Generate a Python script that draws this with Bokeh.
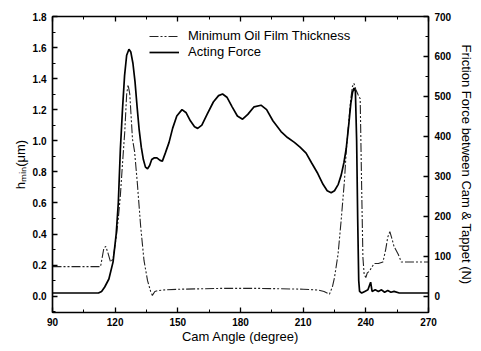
from bokeh.plotting import figure
from bokeh.models import (Range1d, LinearAxis, Legend, LegendItem, SingleIntervalTicker,
                          PrintfTickFormatter, CustomLabelingPolicy)
from bokeh.embed import file_html
from bokeh.resources import INLINE

# ---- data ----
force_deg = [90, 112, 113.5, 115, 117, 119, 120.5, 121.5, 122.5, 123.5, 124.5, 125.5, 126.6,
             127.5, 128.5, 129.5, 130.5, 131.5, 132.5, 133.5, 134.5, 135.5, 136.5, 137.5, 138.6,
             140, 141.5, 142.6, 144, 145.8, 147.5, 149.5, 152, 154, 156, 158, 159.5, 161.5, 164,
             167, 169.5, 171.4, 173.5, 176, 178.5, 181, 183.5, 186.5, 189.8, 192.5, 195.5, 199.4,
             202.5, 205.8, 208.5, 211.4, 214, 217, 219.5, 221.5, 223.4, 225, 226.8, 228.2, 229.5,
             230.6, 231.8, 232.8, 233.6, 234.3, 235, 235.6, 236.1, 236.6, 237, 238, 239.5, 241,
             242.3, 243, 244.5, 246, 247.5, 249, 250.5, 252, 253.5, 256, 260, 270]
force_N = [8, 8, 12, 23, 43, 86, 156, 233, 369, 467, 552, 603, 618,
           611, 583, 537, 474, 416, 373, 342, 323, 319, 327, 342, 346,
           346, 340, 338, 358, 385, 420, 451, 467, 459, 439, 424, 420, 428, 455,
           486, 502, 506, 498, 474, 451, 443, 455, 474, 478, 467, 439, 412,
           397, 385, 373, 358, 334, 307, 280, 264, 259, 264, 280, 303, 334,
           369, 428, 482, 509, 521, 513, 389, 194, 39, 12, 8, 12, 16,
           35, 12, 16, 12, 16, 10, 14, 10, 12, 8, 8, 8]

film_deg = [90, 113, 113.8, 114.6, 115.5, 116.5, 117.8, 119, 120.5, 121.5, 122.5, 123.5, 124.6,
            125.5, 126.2, 127, 128.3, 129.3, 130.6, 132.2, 133.8, 135.5, 137, 137.8, 139, 140.3,
            143, 151.4, 170, 190, 210, 217, 220, 222.6, 224, 225, 226.7, 228.2, 229.8, 230.6,
            231.8, 232.8, 233.6, 234.3, 235.2, 236.2, 237.3, 238, 238.6, 239.2, 240, 240.7,
            241.7, 243, 244, 246, 248.2, 249.5, 250.5, 251.5, 252.5, 253.5, 255.5, 257, 260,
            266.6, 270]
film_um = [0.19, 0.19, 0.25, 0.31, 0.32, 0.28, 0.22, 0.24, 0.38, 0.50, 0.65, 0.85, 1.06,
           1.30, 1.36, 1.30, 1.01, 0.93, 0.73, 0.45, 0.23, 0.10, 0.03, 0.005, 0.03, 0.035,
           0.04, 0.045, 0.05, 0.05, 0.045, 0.04, 0.03, 0.013, 0.06, 0.12, 0.27, 0.49, 0.75, 0.93,
           1.12, 1.27, 1.35, 1.37, 1.33, 1.30, 1.27, 0.70, 0.25, 0.14, 0.12, 0.15,
           0.16, 0.19, 0.21, 0.21, 0.22, 0.30, 0.38, 0.415, 0.37, 0.32, 0.27, 0.22, 0.22,
           0.22, 0.22]

FONT = "Liberation Sans"

p = figure(width=477, height=351, output_backend="svg", toolbar_location=None,
           x_range=Range1d(90, 270), y_range=Range1d(-0.105, 1.8),
           min_border_left=52, min_border_right=44, min_border_top=16, min_border_bottom=39)
p.extra_y_ranges = {"force": Range1d(-40.8, 700)}
p.grid.visible = False
p.outline_line_color = "black"
p.outline_line_width = 1.2

def style_axis(ax):
    ax.axis_line_width = 1.5
    ax.axis_line_color = "black"
    ax.major_tick_in = 5
    ax.major_tick_out = 0
    ax.minor_tick_in = 3
    ax.minor_tick_out = 0
    ax.major_tick_line_width = 1.3
    ax.minor_tick_line_width = 1
    ax.major_label_text_font = FONT
    ax.major_label_text_font_size = "10px"
    ax.major_label_text_font_style = "bold"
    ax.major_label_text_color = "black"
    ax.axis_label_text_font = FONT
    ax.axis_label_text_font_size = "13px"
    ax.axis_label_text_font_style = "normal"
    ax.axis_label_text_color = "black"

# bottom axis
xa = p.xaxis[0]
xa.ticker = SingleIntervalTicker(interval=30, num_minor_ticks=2)
style_axis(xa)
xa.axis_label = "Cam Angle (degree)"
xa.major_label_standoff = 5
xa.axis_label_standoff = 0

# left axis
ya = p.yaxis[0]
ya.ticker = SingleIntervalTicker(interval=0.2, num_minor_ticks=2)
ya.formatter = PrintfTickFormatter(format="%.1f")
style_axis(ya)
ya.axis_label = "hₘᵢₙ(μm)"
ya.major_label_standoff = 6
ya.axis_label_standoff = 2

# right axis
ra = LinearAxis(y_range_name="force", axis_label="Friction Force between Cam & Tappet (N)",
                ticker=SingleIntervalTicker(interval=100, num_minor_ticks=2))
style_axis(ra)
ra.major_label_standoff = 6
ra.axis_label_standoff = 5
p.add_layout(ra, "right")

# top axis (ticks only, no labels)
ta = LinearAxis(ticker=SingleIntervalTicker(interval=30, num_minor_ticks=2))
style_axis(ta)
ta.major_label_standoff = 0
ta.major_label_policy = CustomLabelingPolicy(code="""
    for (const i of indices) { indices.unset(i) }
    return indices
""")
p.add_layout(ta, "above")

r_film = p.line(film_deg, film_um, line_color="#222222", line_width=1.1,
                line_dash="9 2 2 2 2 2")
r_force = p.line(force_deg, force_N, y_range_name="force", line_color="black", line_width=1.7)

legend = Legend(items=[LegendItem(label="Minimum Oil Film Thickness", renderers=[r_film]),
                       LegendItem(label="Acting Force", renderers=[r_force])],
                location=(97, 253))
legend.border_line_alpha = 0
legend.background_fill_alpha = 0
legend.padding = 0
legend.margin = 0
legend.spacing = 1
legend.glyph_width = 30
legend.glyph_height = 14
legend.label_height = 14
legend.label_standoff = 9
legend.label_text_font = FONT
legend.label_text_font_size = "13px"
legend.label_text_color = "black"
p.add_layout(legend)

open("out.html", "w").write(file_html(p, INLINE))
